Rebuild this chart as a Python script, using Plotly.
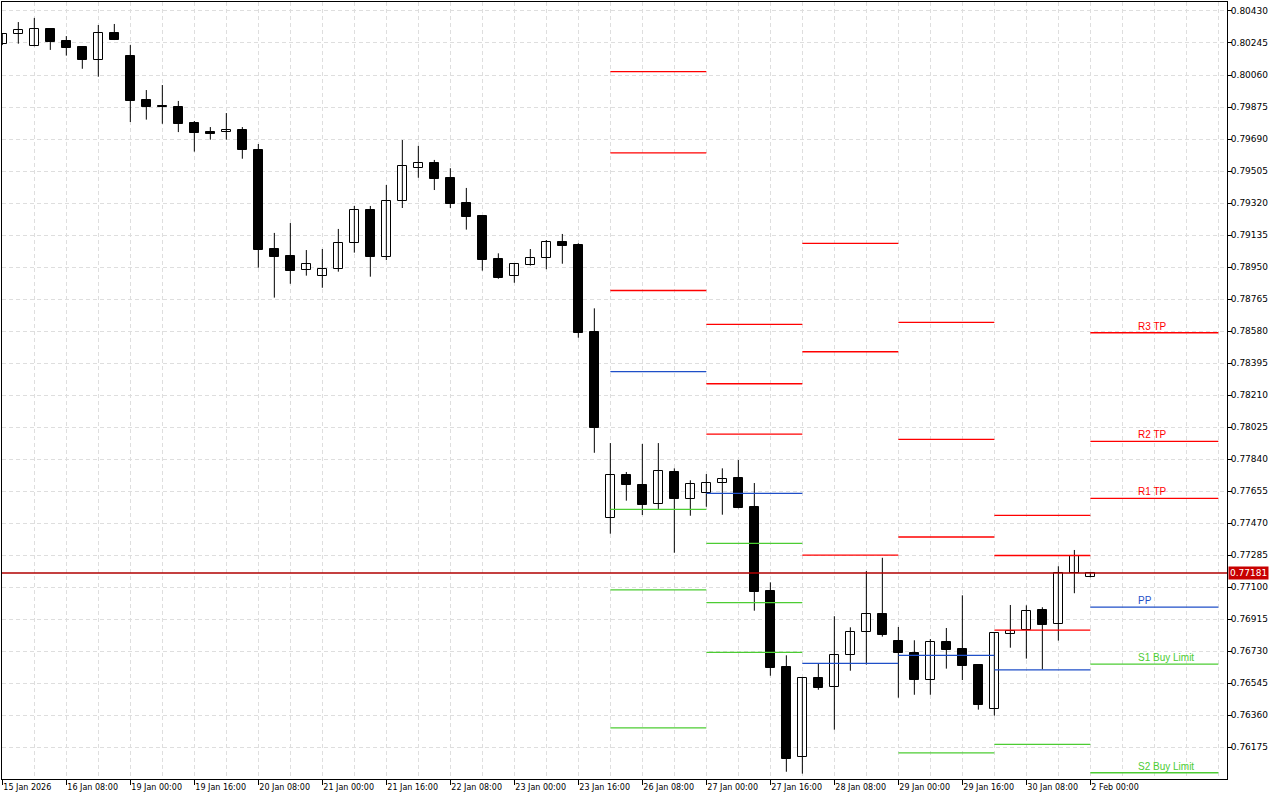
import plotly.graph_objects as go

# ---------------- data ----------------
TIME_LABELS = ["15 Jan 2026", "16 Jan 08:00", "19 Jan 00:00", "19 Jan 16:00", "20 Jan 08:00",
               "21 Jan 00:00", "21 Jan 16:00", "22 Jan 08:00", "23 Jan 00:00", "23 Jan 16:00",
               "26 Jan 08:00", "27 Jan 00:00", "27 Jan 16:00", "28 Jan 08:00", "29 Jan 00:00",
               "29 Jan 16:00", "30 Jan 08:00", "2 Feb 00:00"]
BARS_PER_LABEL = 4

OPEN = [0.80237, 0.80295, 0.80229, 0.80326, 0.80255, 0.80222, 0.80148, 0.80301, 0.80168, 0.79915,
        0.79881, 0.79875, 0.79783, 0.79729, 0.79729, 0.79742, 0.79626, 0.79054, 0.79014, 0.78931,
        0.78896, 0.78937, 0.79087, 0.79278, 0.79010, 0.79330, 0.79521, 0.79550, 0.79463, 0.79320,
        0.79245, 0.78995, 0.78900, 0.78963, 0.79000, 0.79095, 0.79077, 0.78574, 0.77497, 0.77746,
        0.77688, 0.77578, 0.77763, 0.77610, 0.77642, 0.77700, 0.77728, 0.77560, 0.77075, 0.76636,
        0.76115, 0.76572, 0.76520, 0.76705, 0.76840, 0.76942, 0.76786, 0.76721, 0.76564, 0.76780,
        0.76742, 0.76647, 0.76393, 0.76830, 0.76851, 0.76967, 0.76884, 0.77179, 0.77156]
HIGH = [0.80300, 0.80366, 0.80390, 0.80330, 0.80285, 0.80226, 0.80349, 0.80355, 0.80233, 0.79973,
        0.80002, 0.79910, 0.79794, 0.79759, 0.79840, 0.79759, 0.79661, 0.79147, 0.79204, 0.79048,
        0.79054, 0.79170, 0.79303, 0.79303, 0.79424, 0.79684, 0.79650, 0.79569, 0.79521, 0.79407,
        0.79247, 0.79029, 0.78971, 0.79054, 0.79106, 0.79141, 0.79087, 0.78711, 0.77932, 0.77765,
        0.77927, 0.77932, 0.77786, 0.77717, 0.77753, 0.77786, 0.77834, 0.77701, 0.77127, 0.76705,
        0.76580, 0.76657, 0.76931, 0.76867, 0.77192, 0.77269, 0.76869, 0.76792, 0.76799, 0.76863,
        0.77052, 0.76650, 0.76835, 0.76996, 0.76994, 0.76983, 0.77220, 0.77314, 0.77187]
LOW = [0.80233, 0.80241, 0.80226, 0.80205, 0.80172, 0.80096, 0.80050, 0.80262, 0.79788, 0.79802,
       0.79778, 0.79730, 0.79617, 0.79686, 0.79686, 0.79576, 0.78946, 0.78773, 0.78853, 0.78900,
       0.78830, 0.78923, 0.79033, 0.78894, 0.78990, 0.79291, 0.79466, 0.79395, 0.79291, 0.79166,
       0.78929, 0.78882, 0.78859, 0.78958, 0.78937, 0.78969, 0.78541, 0.77876, 0.77408, 0.77599,
       0.77516, 0.77551, 0.77298, 0.77512, 0.77564, 0.77518, 0.77555, 0.76963, 0.76587, 0.76032,
       0.76021, 0.76506, 0.76275, 0.76616, 0.76651, 0.76813, 0.76460, 0.76477, 0.76477, 0.76628,
       0.76562, 0.76391, 0.76356, 0.76749, 0.76686, 0.76624, 0.76790, 0.77064, 0.77156]
CLOSE = [0.80295, 0.80318, 0.80324, 0.80253, 0.80218, 0.80148, 0.80301, 0.80264, 0.79911, 0.79877,
         0.79873, 0.79778, 0.79726, 0.79721, 0.79740, 0.79628, 0.79050, 0.79010, 0.78929, 0.78966,
         0.78937, 0.79087, 0.79278, 0.79010, 0.79330, 0.79532, 0.79550, 0.79461, 0.79316, 0.79241,
         0.78992, 0.78888, 0.78966, 0.79000, 0.79093, 0.79073, 0.78570, 0.78017, 0.77746, 0.77691,
         0.77576, 0.77769, 0.77610, 0.77694, 0.77700, 0.77726, 0.77558, 0.77073, 0.76634, 0.76107,
         0.76572, 0.76518, 0.76705, 0.76838, 0.76942, 0.76824, 0.76721, 0.76562, 0.76780, 0.76738,
         0.76645, 0.76420, 0.76832, 0.76844, 0.76960, 0.76882, 0.77179, 0.77281, 0.77181]

Y_TICKS = [0.80430, 0.80245, 0.80060, 0.79875, 0.79690, 0.79505, 0.79320, 0.79135, 0.78950,
           0.78765, 0.78580, 0.78395, 0.78210, 0.78025, 0.77840, 0.77655, 0.77470, 0.77285,
           0.77100, 0.76915, 0.76730, 0.76545, 0.76360, 0.76175]

# daily pivot levels: bar index where each day starts / ends
DAY_START = [38, 44, 50, 56, 62, 68]
DAY_END = [44, 50, 56, 62, 68, 76]
R3 = [0.80079, 0.78618, 0.79086, 0.78630, 0.77514, 0.78570]
R2 = [0.79610, 0.78275, 0.78460, 0.77953, 0.77282, 0.77942]
R1 = [0.78814, 0.77984, 0.77284, 0.77389, 0.76851, 0.77612]
PP = [0.78345, 0.77641, 0.76658, 0.76705, 0.76621, 0.76984]
S1 = [0.77549, 0.77352, None, 0.76141, 0.76190, 0.76654]
S2 = [0.77083, 0.77010, None, None, None, 0.76026]
S3 = [0.76286, 0.76722, None, None, None, None]

LEVEL_LABELS = {"R3": "R3 TP", "R2": "R2 TP", "R1": "R1 TP", "PP": "PP",
                "S1": "S1 Buy Limit", "S2": "S2 Buy Limit"}
LAST_PRICE = 0.77181

# ---------------- styles ----------------
RED = "#ff0000"
BLUE = "#1f4fc8"
GREEN = "#4ccc33"
GRID = "#dedede"
AXIS_FONT = "DejaVu Sans"

fig = go.Figure()

idx = list(range(len(OPEN)))

# wicks
wx, wy = [], []
for i in idx:
    wx += [i, i, None]
    wy += [HIGH[i], LOW[i], None]
fig.add_trace(go.Scatter(x=wx, y=wy, mode="lines", line=dict(color="black", width=1),
                         hoverinfo="skip"))

# bodies
base = [min(o, c) for o, c in zip(OPEN, CLOSE)]
height = [max(abs(c - o), 0.000015) for o, c in zip(OPEN, CLOSE)]
colors = ["#ffffff" if c >= o else "#000000" for o, c in zip(OPEN, CLOSE)]
fig.add_trace(go.Bar(x=idx, base=base, y=height, width=0.56,
                     marker=dict(color=colors, line=dict(color="black", width=1)),
                     hoverinfo="skip"))

# pivot level lines
levels = [("R3", R3, RED), ("R2", R2, RED), ("R1", R1, RED), ("PP", PP, BLUE),
          ("S1", S1, GREEN), ("S2", S2, GREEN), ("S3", S3, GREEN)]
for name, vals, col in levels:
    lx, ly = [], []
    for s, e, v in zip(DAY_START, DAY_END, vals):
        if v is None:
            continue
        lx += [s, e, None]
        ly += [v, v, None]
    fig.add_trace(go.Scatter(x=lx, y=ly, mode="lines", line=dict(color=col, width=1.3),
                             hoverinfo="skip"))
    if name in LEVEL_LABELS and vals[-1] is not None:
        fig.add_annotation(x=DAY_START[-1] + 3, y=vals[-1], xref="x", yref="y",
                           text=LEVEL_LABELS[name], showarrow=False,
                           xanchor="left", yanchor="bottom", yshift=-1, xshift=-2,
                           font=dict(family="Liberation Sans", size=10, color=col))

# current price line + label
fig.add_shape(type="line", xref="paper", x0=0, x1=1, yref="y", y0=LAST_PRICE, y1=LAST_PRICE,
              line=dict(color="#b00000", width=1.3), layer="above")
fig.add_annotation(xref="paper", x=1, xanchor="left", xshift=1, yref="y", y=LAST_PRICE,
                   yanchor="middle", text="%.5f" % LAST_PRICE, showarrow=False,
                   bgcolor="#c80000", borderpad=1,
                   font=dict(family=AXIS_FONT, size=9, color="white"))

tickvals_x = list(range(0, len(OPEN), BARS_PER_LABEL))

fig.update_layout(
    width=1280, height=800,
    margin=dict(l=2, r=53, t=2, b=21, pad=0),
    plot_bgcolor="white", paper_bgcolor="white",
    showlegend=False, bargap=0,
    xaxis=dict(range=[-0.02, 76.54], tickmode="array", tickvals=tickvals_x,
               ticktext=TIME_LABELS, ticks="outside", ticklen=5, tickcolor="black",
               tickwidth=1, showline=True, linecolor="black", linewidth=1, mirror=True,
               showgrid=True, gridcolor=GRID, griddash="4px,3px", gridwidth=1,
               zeroline=False, ticklabelposition="outside right",
               tickfont=dict(family=AXIS_FONT, size=8, color="black"),
               minor=dict(tickmode="array", tickvals=list(range(0, 78, 2)), showgrid=True,
                          gridcolor=GRID, griddash="4px,3px", gridwidth=1, ticks="")),
    yaxis=dict(side="right", range=[0.75990, 0.80482], tickmode="array", tickvals=Y_TICKS,
               ticktext=["%.5f" % v for v in Y_TICKS], ticks="outside", ticklen=4,
               tickcolor="black", tickwidth=1, showline=True, linecolor="black",
               linewidth=1, mirror=True, showgrid=True, gridcolor=GRID,
               griddash="4px,3px", gridwidth=1, zeroline=False, ticklabelstandoff=-3,
               tickfont=dict(family=AXIS_FONT, size=9, color="black")),
)

fig.write_html("out.html", config={"displayModeBar": False},
               post_script="document.body.style.margin='0';document.body.style.overflow='hidden';")
